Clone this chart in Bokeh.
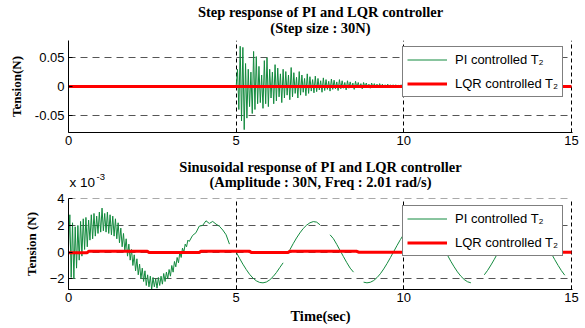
import numpy as np
from bokeh.plotting import figure
from bokeh.models import Range1d, FixedTicker, Legend, LegendItem, Label
from bokeh.layouts import column
from bokeh.embed import file_html
from bokeh.resources import INLINE

nan = float("nan")

# ---------------- data: step response (top) ----------------
x_ticks = [0, 5, 10, 15]
step_y_ticks = [-0.05, 0, 0.05]
step_titles = ["Step response of PI and LQR controller", "(Step size : 30N)"]

step_pi_pre_t = [0.0, 4.96]
step_pi_pre_v = [0.0, 0.0]
step_pi_fast_start, step_pi_fast_dt = 5.0, 0.04
step_pi_fast_v = [
    0.0, 0.030, -0.040, 0.070, -0.060, 0.068, -0.075, 0.040, -0.055, 0.030,
    -0.035, 0.025, -0.047, 0.061, -0.040, 0.052, -0.030, 0.035, -0.028, 0.020,
    -0.038, 0.045, -0.030, 0.050, -0.035, 0.030, -0.020, 0.025, -0.030, 0.038,
    -0.025, 0.032, -0.018, 0.022, -0.028, 0.030, -0.020, 0.026, -0.015, 0.020,
    -0.023, 0.033, -0.018, 0.024, -0.012, 0.016, -0.020, 0.026, -0.015, 0.020,
    -0.010, 0.014, -0.016, 0.022, -0.012, 0.017, -0.008, 0.012, -0.011, 0.018,
    -0.009, 0.014, -0.006, 0.010, -0.010, 0.015, -0.007, 0.012, -0.005, 0.009,
    -0.008, 0.013, -0.005, 0.011, -0.004, 0.008, -0.007, 0.012, -0.004, 0.010,
    -0.003, 0.007, -0.006, 0.010, -0.003, 0.008, -0.002, 0.006, -0.005, 0.009,
    -0.002, 0.007, -0.002, 0.005, -0.004, 0.007, -0.001, 0.006, -0.001, 0.004,
    -0.003, 0.006, -0.001, 0.005, -0.001, 0.004, -0.002, 0.005, -0.001, 0.004,
    0.000, 0.003, -0.002, 0.004, -0.001, 0.003, 0.000, 0.003, -0.001, 0.003,
    0.000, 0.002, -0.001, 0.003, 0.000,
]
step_pi_tail_start, step_pi_tail_dt = 10.0, 0.1
step_pi_tail_v = [
    0.002, -0.001, 0.002, 0.000, 0.002, -0.001, 0.001, 0.000, 0.002, -0.001,
    0.001, 0.000, 0.001, -0.001, 0.001, 0.000, 0.001, 0.000, 0.001, -0.001,
    0.001, 0.000, 0.001, 0.000, 0.001, 0.000, 0.001, 0.000, 0.001, 0.000,
    0.000, 0.001, 0.000, 0.001, 0.000, 0.000, 0.001, 0.000, 0.000, 0.001,
    0.000, 0.000, 0.000, 0.001, 0.000, 0.000, 0.000, 0.000, 0.000, 0.000, 0.000,
]
step_lqr_t = [0.0, 15.0]
step_lqr_v = [0.0, 0.0]

# ---------------- data: sinusoidal response (bottom, x 1e-3) ----------------
sin_y_ticks = [-2, 0, 2, 4]
sin_titles = ["Sinusoidal response of PI and LQR controller",
              "(Amplitude : 30N, Freq : 2.01 rad/s)"]
sin_multiplier = ["x 10", "-3"]

sin_pi_fast_start, sin_pi_fast_dt = 0.0, 0.04
sin_pi_fast_v = [
    0.3, 2.8, -1.9, 2.2, -2.0, 1.9, -1.2, 2.0, -0.6, 2.3,
    -0.3, 2.5, 0.2, 2.6, 0.4, 2.4, 0.9, 2.8, 1.0, 2.9,
    1.2, 2.7, 1.4, 3.0, 1.5, 3.3, 1.6, 2.9, 1.5, 3.0,
    1.4, 2.8, 1.3, 2.7, 1.2, 2.5, 1.0, 2.2, 0.7, 1.8,
    0.4, 1.4, 0.1, 1.0, -0.3, 0.6, -0.6, 0.2, -1.0, -0.2,
    -1.4, -0.5, -1.7, -0.9, -2.0, -1.2, -2.2, -1.4, -2.5, -1.7,
    -2.6, -1.8, -2.8, -1.9, -2.6, -2.0, -2.7, -1.9, -2.5, -1.8,
    -2.4, -1.6, -2.2, -1.5, -2.0, -1.3, -1.8, -1.0, -1.5, -0.7,
    -1.1, -0.4, -0.8, 0.0, -0.4, 0.3, 0.0, 0.6, 0.4, 0.9,
    0.8,
]
sin_pi_slow_start, sin_pi_slow_dt = 3.7, 0.1
sin_pi_slow_v = [
    1.25, 1.45, 1.95, 2.00, 2.35, 2.15, 2.30, 2.10, 1.94, 1.66,   # 3.7-4.6
    1.30, 0.60, nan, 0.00, -0.46, -0.90, -1.30, -1.66, -1.94, -2.15,  # 4.7-5.6
    -2.27, -2.30, -2.24, -2.08, -1.84, -1.53, -1.16, -0.80, nan, 0.17,  # 5.7-6.6
    0.63, 1.06, 1.44, 1.77, 2.02, 2.20, 2.29, 2.25, 2.05, nan,     # 6.7-7.6
    nan, 1.30, 1.01, 0.58, 0.12, -0.34, -0.79, -1.20, -1.50, nan,  # 7.7-8.6
    nan, -2.25, -2.30, -2.26, -2.13, -1.91, -1.62, -1.26, -0.85, -0.41,  # 8.7-9.6
    0.05, 0.51, 0.95, 1.35, 1.69, 1.97, 2.17, 2.28, 2.30, 2.22,    # 9.7-10.6
    2.06, 1.81, 1.49, 1.11, 0.69, 0.24, -0.22, -0.68, -1.10, -1.48,  # 10.7-11.6
    -1.80, -2.05, -2.22, -2.30, nan, nan, nan, -1.70, -1.36, -0.96,  # 11.7-12.6
    -0.53, -0.07, 0.39, 0.84, 1.25, 1.61, 1.90, 2.12, 2.26, 2.30,  # 12.7-13.6
    2.25, 2.11, 1.89, 1.58, 1.22, 0.80, 0.36, -0.10, -0.56, -0.99,  # 13.7-14.6
    -1.39, -1.73, nan, nan,                                        # 14.7-15.0
]
sin_lqr_t = [0.0, 0.55, 0.6, 2.35, 2.4, 3.9, 3.95, 5.4, 5.45, 6.55, 6.6, 8.6, 8.65, 15.0]
sin_lqr_v = [-0.05, -0.05, 0.06, 0.06, -0.03, -0.03, 0.07, 0.07, -0.03, -0.03, 0.06, 0.06, 0.0, 0.0]

legend_labels = ["PI controlled T\u2082", "LQR controlled T\u2082"]

# ---------------- styling ----------------
GREEN = "#138a3e"
RED = "#ff0000"
SANS = "Liberation Sans"
SERIF = "Liberation Serif"
TITLE_SIZE = "14.5px"
W = 585
BORDER_L, BORDER_R = 68, 13


def series(start, dt, vals):
    return [round(start + dt * i, 4) for i in range(len(vals))]


def style(p, yticks, ylabel):
    p.outline_line_color = None
    p.background_fill_color = "white"
    p.border_fill_color = "white"
    for ax in (p.xaxis[0], p.yaxis[0]):
        ax.axis_line_color = "black"
        ax.axis_line_width = 1
        ax.major_tick_line_color = "black"
        ax.major_tick_in = 4
        ax.major_tick_out = 0
        ax.minor_tick_in = 0
        ax.minor_tick_out = 0
        ax.major_label_text_font = SANS
        ax.major_label_text_font_size = "13px"
        ax.major_label_text_color = "black"
    p.xaxis.ticker = FixedTicker(ticks=x_ticks)
    p.yaxis.ticker = FixedTicker(ticks=yticks)
    p.xaxis.major_label_standoff = 3
    p.yaxis.major_label_standoff = 4
    p.yaxis.axis_label = ylabel
    p.yaxis.axis_label_text_font = SERIF
    p.yaxis.axis_label_text_font_style = "bold"
    p.yaxis.axis_label_text_font_size = "13px"
    p.yaxis.axis_label_text_color = "black"
    p.yaxis.axis_label_standoff = 8
    p.xgrid.grid_line_color = "black"
    p.xgrid.grid_line_dash = "4 3"
    p.xgrid.grid_line_width = 1
    p.ygrid.grid_line_color = "#555555"
    p.ygrid.grid_line_dash = "7 5"
    p.ygrid.grid_line_width = 1


def add_legend(p, items, loc):
    lg = Legend(items=items, location=loc)
    lg.border_line_color = "black"
    lg.border_line_width = 1
    lg.background_fill_color = "white"
    lg.background_fill_alpha = 1.0
    lg.label_text_font = SANS
    lg.label_text_font_size = "13px"
    lg.label_text_color = "black"
    lg.glyph_width = 40
    lg.glyph_height = 17
    lg.label_height = 17
    lg.label_standoff = 8
    lg.spacing = 7
    lg.padding = 4
    lg.margin = 0
    p.add_layout(lg)


def text_strip(height):
    """An axis-less strip for the title texts; its frame lines up with the plots' frames,
    and its x range is in page pixels so texts can be placed like the reference."""
    f = figure(width=W, height=height, x_range=Range1d(BORDER_L, W - BORDER_R),
               y_range=Range1d(0, height), x_axis_type=None, y_axis_type=None,
               output_backend="svg", toolbar_location=None,
               min_border_left=BORDER_L, min_border_right=BORDER_R,
               min_border_top=0, min_border_bottom=0)
    f.outline_line_color = None
    f.background_fill_color = "white"
    f.border_fill_color = "white"
    f.grid.visible = False
    return f


def put(f, text, x, y_from_top, size, font=SERIF, style="bold", align="center"):
    f.add_layout(Label(x=x, y=f.height - y_from_top, text=text, text_align=align,
                       text_baseline="middle", text_font=font, text_font_style=style,
                       text_font_size=size, text_color="black"))


# ---------------- top title strip ----------------
t1 = text_strip(40)
put(t1, step_titles[0], 320, 11, TITLE_SIZE)
put(t1, step_titles[1], 320, 27, TITLE_SIZE)

# ---------------- top figure ----------------
p1 = figure(width=W, height=110, x_range=Range1d(0, 15.03), y_range=Range1d(-0.08, 0.08),
            output_backend="svg", toolbar_location=None,
            min_border_left=BORDER_L, min_border_right=BORDER_R,
            min_border_top=0, min_border_bottom=18)
style(p1, step_y_ticks, "Tension(N)")
p1.yaxis.major_label_overrides = {-0.05: "-0.05", 0: "0", 0.05: "0.05"}

t_step = step_pi_pre_t + series(step_pi_fast_start, step_pi_fast_dt, step_pi_fast_v) \
    + series(step_pi_tail_start, step_pi_tail_dt, step_pi_tail_v)
v_step = step_pi_pre_v + step_pi_fast_v + step_pi_tail_v
g1 = p1.line(t_step, v_step, line_color=GREEN, line_width=1)
r1 = p1.line(step_lqr_t, step_lqr_v, line_color=RED, line_width=3)
add_legend(p1, [LegendItem(label=legend_labels[0], renderers=[g1]),
                LegendItem(label=legend_labels[1], renderers=[r1])], (334, 35))

# ---------------- bottom title strip ----------------
t2 = text_strip(40)
put(t2, sin_titles[0], 320, 16.5, TITLE_SIZE)
put(t2, sin_titles[1], 320, 31.5, TITLE_SIZE)
put(t2, sin_multiplier[0], 69, 32, "13.5px", font=SANS, style="normal", align="left")
put(t2, sin_multiplier[1], 96, 26, "9.5px", font=SANS, style="normal", align="left")

# ---------------- bottom figure ----------------
p2 = figure(width=W, height=138, x_range=Range1d(0, 15.03), y_range=Range1d(-2.8, 4.02),
            output_backend="svg", toolbar_location=None,
            min_border_left=BORDER_L, min_border_right=BORDER_R,
            min_border_top=8, min_border_bottom=39)
style(p2, sin_y_ticks, "Tension (N)")
p2.xaxis.axis_label = "Time(sec)"
p2.xaxis.axis_label_text_font = SERIF
p2.xaxis.axis_label_text_font_style = "bold"
p2.xaxis.axis_label_text_font_size = TITLE_SIZE
p2.xaxis.axis_label_text_color = "black"
p2.xaxis.axis_label_standoff = 3

t_sin = series(sin_pi_fast_start, sin_pi_fast_dt, sin_pi_fast_v) \
    + series(sin_pi_slow_start, sin_pi_slow_dt, sin_pi_slow_v)
v_sin = sin_pi_fast_v + sin_pi_slow_v
g2 = p2.line(t_sin, v_sin, line_color=GREEN, line_width=1)
r2 = p2.line(sin_lqr_t, sin_lqr_v, line_color=RED, line_width=3)
add_legend(p2, [LegendItem(label=legend_labels[0], renderers=[g2]),
                LegendItem(label=legend_labels[1], renderers=[r2])], (334, 33))

layout = column(t1, p1, t2, p2)
open("out.html", "w").write(file_html(layout, INLINE))
